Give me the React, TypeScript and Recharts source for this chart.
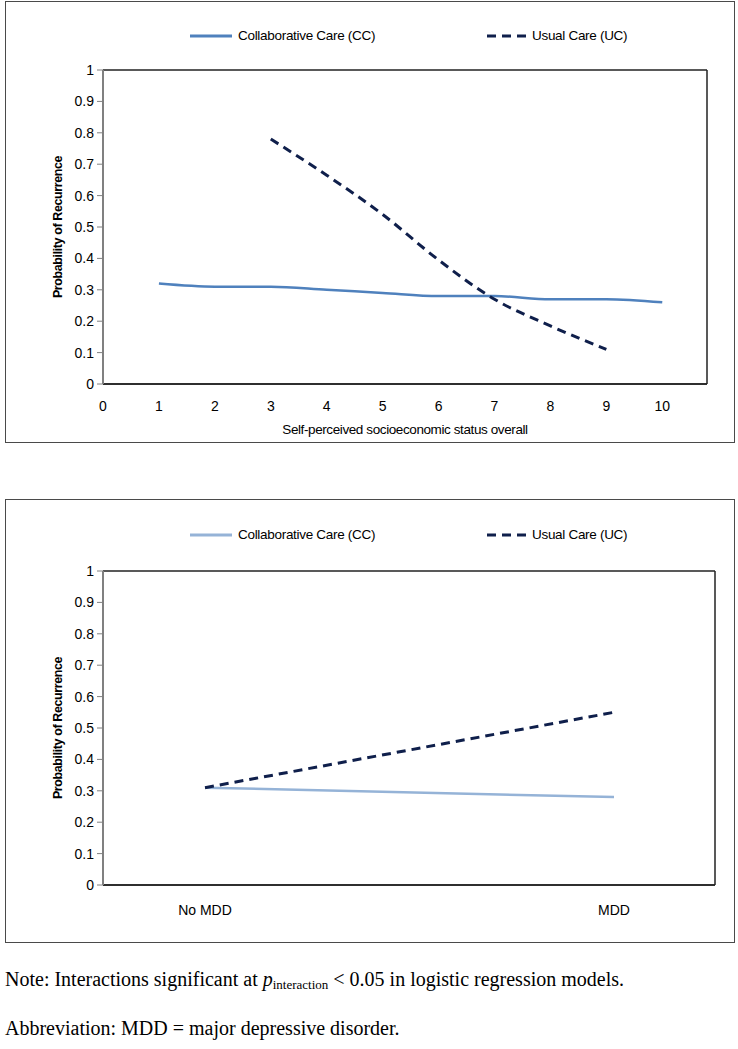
import React from 'react';
import {
  LineChart,
  Line,
  XAxis,
  YAxis,
  Legend,
  CartesianGrid,
} from 'recharts';

// top panel: self-perceived SES (1-10)
const sesLevels = [1, 2, 3, 4, 5, 6, 7, 8, 9, 10];
const sesCC = [0.32, 0.31, 0.31, 0.3, 0.29, 0.28, 0.28, 0.27, 0.27, 0.26];
const sesUC = [null, null, 0.78, 0.665, 0.54, 0.395, 0.27, 0.185, 0.11, null];
const sesTicks = [0, 1, 2, 3, 4, 5, 6, 7, 8, 9, 10];

// bottom panel: MDD status
const mddGroups = ['No MDD', 'MDD'];
const mddCC = [0.31, 0.28];
const mddUC = [0.31, 0.55];

const probTicks = [0, 0.1, 0.2, 0.3, 0.4, 0.5, 0.6, 0.7, 0.8, 0.9, 1];

const seriesNames = ['Collaborative Care (CC)', 'Usual Care (UC)'];

const sesData = sesLevels.map((x, i) => ({ x, cc: sesCC[i], uc: sesUC[i] ?? undefined }));
const mddData = mddGroups.map((g, i) => ({ g, cc: mddCC[i], uc: mddUC[i] }));

const CC_DARK = '#4f81bd';
const CC_LIGHT = '#95b3d7';
const UC_NAVY = '#0f1f4b';

const sans = "'Liberation Sans', Arial, sans-serif";
const serif = "'Liberation Serif', 'Times New Roman', serif";

const tickStyle = { fontFamily: sans, fontSize: 14, fill: '#000' };
const fmtProb = (v: number) => String(Math.round(v * 10) / 10);

const LegendRow = ({ ccColor }: { ccColor: string }) => (
  <div style={{ position: 'relative', height: 28, width: 728, fontFamily: sans, fontSize: 13.5, color: '#000', letterSpacing: -0.3 }}>
    <svg width={728} height={28} style={{ position: 'absolute', left: 0, top: 0 }}>
      <line x1={184} x2={226} y1={14} y2={14} stroke={ccColor} strokeWidth={3} />
      <line x1={481} x2={521} y1={14} y2={14} stroke={UC_NAVY} strokeWidth={3} strokeDasharray="9 6" />
    </svg>
    <span style={{ position: 'absolute', left: 232, top: 0, lineHeight: '28px' }}>{seriesNames[0]}</span>
    <span style={{ position: 'absolute', left: 526, top: 0, lineHeight: '28px' }}>{seriesNames[1]}</span>
  </div>
);

const boxStyle = (top: number, h: number): React.CSSProperties => ({
  position: 'absolute',
  left: 5,
  top,
  width: 728,
  height: h,
  border: '1px solid #4a4a4a',
});

const yLabel = {
  value: 'Probability of Recurrence',
  angle: -90,
  position: 'insideLeft' as const,
  offset: 5,
  style: { textAnchor: 'middle', fontFamily: sans, fontWeight: 'bold', fontSize: 12.5, letterSpacing: -0.4, fill: '#000' },
};

// plot-area border: grid lines only on the four edges
const edgesX = ({ offset }: any) => [offset.left, offset.left + offset.width];
const edgesY = ({ offset }: any) => [offset.top, offset.top + offset.height];

const Frame = () => (
  <CartesianGrid
    stroke="#222"
    strokeWidth={1.5}
    verticalCoordinatesGenerator={edgesX}
    horizontalCoordinatesGenerator={edgesY}
  />
);

const App = () => (
  <div style={{ position: 'absolute', left: 0, top: 0, width: 738, height: 1049, background: '#fff' }}>
    <div style={boxStyle(1, 440)}>
      <LineChart width={728} height={440} data={sesData} margin={{ top: 20, right: 27, left: 47, bottom: 0 }}>
        <Legend
          verticalAlign="top"
          wrapperStyle={{ left: 0, width: 728, height: 48 }}
          content={() => <LegendRow ccColor={CC_DARK} />}
        />
        {Frame()}
        <XAxis
          dataKey="x"
          type="number"
          domain={[0, 10.8]}
          ticks={sesTicks}
          allowDataOverflow
          tickLine={false}
          tickSize={0}
          tickMargin={17}
          height={58}
          axisLine={{ stroke: '#222', strokeWidth: 1.5 }}
          tick={tickStyle}
          label={{
            value: 'Self-perceived socioeconomic status overall',
            position: 'insideBottom',
            offset: 8,
            style: { fontFamily: sans, fontSize: 13.5, letterSpacing: -0.4, fill: '#000' },
          }}
        />
        <YAxis
          type="number"
          domain={[0, 1]}
          ticks={probTicks}
          tickFormatter={fmtProb}
          width={50}
          tickSize={6}
          tickMargin={3}
          tickLine={{ stroke: '#808080' }}
          axisLine={{ stroke: '#808080', strokeWidth: 2 }}
          tick={tickStyle}
          label={yLabel}
        />
        <Line type="monotone" dataKey="cc" stroke={CC_DARK} strokeWidth={2.5} dot={false} isAnimationActive={false} />
        <Line type="monotone" dataKey="uc" stroke={UC_NAVY} strokeWidth={3} strokeDasharray="9 6" dot={false} isAnimationActive={false} />
      </LineChart>
    </div>

    <div style={boxStyle(499, 442)}>
      <LineChart width={728} height={442} data={mddData} margin={{ top: 21, right: 19, left: 47, bottom: 0 }}>
        <Legend
          verticalAlign="top"
          wrapperStyle={{ left: 0, width: 728, height: 50 }}
          content={() => <LegendRow ccColor={CC_LIGHT} />}
        />
        {Frame()}
        <XAxis
          dataKey="g"
          type="category"
          padding={{ left: 102, right: 101 }}
          tickLine={false}
          tickSize={0}
          tickMargin={20}
          height={57}
          axisLine={{ stroke: '#222', strokeWidth: 1.5 }}
          tick={tickStyle}
        />
        <YAxis
          type="number"
          domain={[0, 1]}
          ticks={probTicks}
          tickFormatter={fmtProb}
          width={50}
          tickSize={6}
          tickMargin={3}
          tickLine={{ stroke: '#808080' }}
          axisLine={{ stroke: '#808080', strokeWidth: 2 }}
          tick={tickStyle}
          label={yLabel}
        />
        <Line type="linear" dataKey="cc" stroke={CC_LIGHT} strokeWidth={2.5} dot={false} isAnimationActive={false} />
        <Line type="linear" dataKey="uc" stroke={UC_NAVY} strokeWidth={3} strokeDasharray="9 6" dot={false} isAnimationActive={false} />
      </LineChart>
    </div>

    <div style={{ position: 'absolute', left: 5, top: 968, fontFamily: serif, fontSize: 20, color: '#000', whiteSpace: 'nowrap' }}>
      Note: Interactions significant at <i>p</i>
      <sub style={{ fontSize: 13, verticalAlign: '-3px' }}>interaction</sub> &lt; 0.05 in logistic regression models.
    </div>
    <div style={{ position: 'absolute', left: 5, top: 1017, fontFamily: serif, fontSize: 20, color: '#000', whiteSpace: 'nowrap' }}>
      Abbreviation: MDD = major depressive disorder.
    </div>
  </div>
);

export default App;
